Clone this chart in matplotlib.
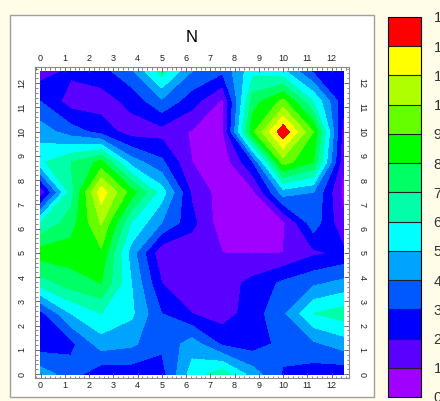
import numpy as np
import matplotlib
matplotlib.use("Agg")
import matplotlib.pyplot as plt
from matplotlib.colors import ListedColormap, BoundaryNorm
from matplotlib.patches import Rectangle
from matplotlib.ticker import MultipleLocator

plt.rcParams['font.family'] = ['Liberation Sans', 'DejaVu Sans']

# sample grid (1.25 spacing)
x_pos = [0, 1.25, 2.5, 3.75, 5, 6.25, 7.5, 8.75, 10, 11.25, 12.5]
y_pos = [0, 1.25, 2.5, 3.75, 5, 6.25, 7.5, 8.75, 10, 11.25, 12.5]

row_y0 = [4.5, 3.5, 2.3, 2.4, 2.6, 5.5, 6.6, 4.5, 2.9, 2.5, 2.3]
row_y1 = [2.4, 2.7, 4.5, 4.2, 3.2, 4.5, 2.8, 2.5, 3.3, 3.8, 4.5]
row_y2 = [2.7, 5.0, 6.0, 5.2, 3.0, 2.0, 1.5, 2.5, 3.8, 6.0, 6.5]
row_y3 = [6.5, 7.5, 8.0, 5.0, 2.0, 1.3, 1.5, 2.3, 3.2, 3.8, 4.3]
row_y4 = [8.5, 8.5, 8.8, 4.5, 1.2, 1.3, 1.0, 0.95, 1.0, 1.8, 2.2]
row_y5 = [6.0, 7.5, 10.1, 6.0, 4.0, 2.3, 0.4, 0.6, 0.8, 3.6, 1.2]
row_y6 = [1.2, 6.5, 11.6, 8.5, 5.5, 1.8, 0.5, 0.7, 4.5, 4.0, 0.7]
row_y7 = [5.8, 7.0, 8.3, 4.5, 3.2, 1.0, 0.3, 3.0, 9.5, 8.0, 1.2]
row_y8 = [4.5, 3.5, 2.6, 1.5, 1.6, 0.9, 0.8, 8.8, 12.8, 9.0, 1.5]
row_y9 = [3.0, 1.5, 1.5, 2.3, 3.8, 2.4, 0.8, 7.5, 9.3, 6.0, 2.3]
row_y10 = [1.5, 2.2, 2.6, 3.8, 6.5, 4.0, 3.2, 5.7, 5.2, 2.8, 2.4]

levels = list(range(14))
band_colors = ['#a000ff', '#5a00ff', '#0000ff', '#0058ff', '#00a4ff',
               '#00ffff', '#00ffa8', '#00ff64', '#00ff00', '#66ff00',
               '#b0ff00', '#ffff00', '#ff0000']

Z = np.array([row_y0, row_y1, row_y2, row_y3, row_y4, row_y5,
              row_y6, row_y7, row_y8, row_y9, row_y10])
cmap = ListedColormap(band_colors)
norm = BoundaryNorm(levels, cmap.N)

W, H = 440, 401
fig = plt.figure(figsize=(W / 100, H / 100), dpi=100)
fig.patch.set_facecolor('#fffce8')

# white panel behind the plot
panel = Rectangle((10 / W, 1 - 397 / H), 364 / W, 382 / H,
                  transform=fig.transFigure, facecolor='white',
                  edgecolor='#a0a0a0', linewidth=1.0, zorder=-5)
fig.patches.append(panel)

ax = fig.add_axes([35 / W, 1 - 378 / H, 314 / W, 311.3 / H])
ax.set_facecolor('white')
ax.contourf(x_pos, y_pos, Z, levels=levels, cmap=cmap, norm=norm)
ax.set_xlim(-0.23, 12.72)
ax.set_ylim(-0.16, 12.68)

ticks = list(range(13))
ax.set_xticks(ticks)
ax.set_yticks(ticks)
ax.xaxis.set_minor_locator(MultipleLocator(0.2))
ax.yaxis.set_minor_locator(MultipleLocator(0.2))
ax.tick_params(which='both', direction='in', top=True, right=True,
               labeltop=True, labelright=True, color='#555555')
ax.tick_params(which='major', length=3.5, width=0.6, labelsize=6.5,
               pad=2.5, labelcolor='#222222')
ax.tick_params(which='minor', length=1.8, width=0.5)
ax.tick_params(axis='y', which='major', pad=6)
for t in ax.yaxis.get_major_ticks():
    t.label2.set_rotation(270)
    t.label2.set_va('center')
    t.label1.set_rotation(90)
    t.label1.set_va('center')
for s in ax.spines.values():
    s.set_color('#888888')
    s.set_linewidth(0.8)

fig.text(192 / W, 1 - 38 / H, 'N', ha='center', va='center', fontsize=12)

# colour legend
cax = fig.add_axes([388 / W, 1 - 397 / H, 33 / W, 380 / H])
sm = plt.cm.ScalarMappable(cmap=cmap, norm=norm)
cb = fig.colorbar(sm, cax=cax, boundaries=levels, ticks=levels,
                  drawedges=True)
cb.outline.set_color('black')
cb.outline.set_linewidth(0.8)
cb.dividers.set_color('#222222')
cb.dividers.set_linewidth(0.8)
cax.tick_params(length=0, pad=9, labelsize=10.5, labelcolor='#333333')

fig.savefig('out.png', dpi=100, facecolor=fig.get_facecolor())
